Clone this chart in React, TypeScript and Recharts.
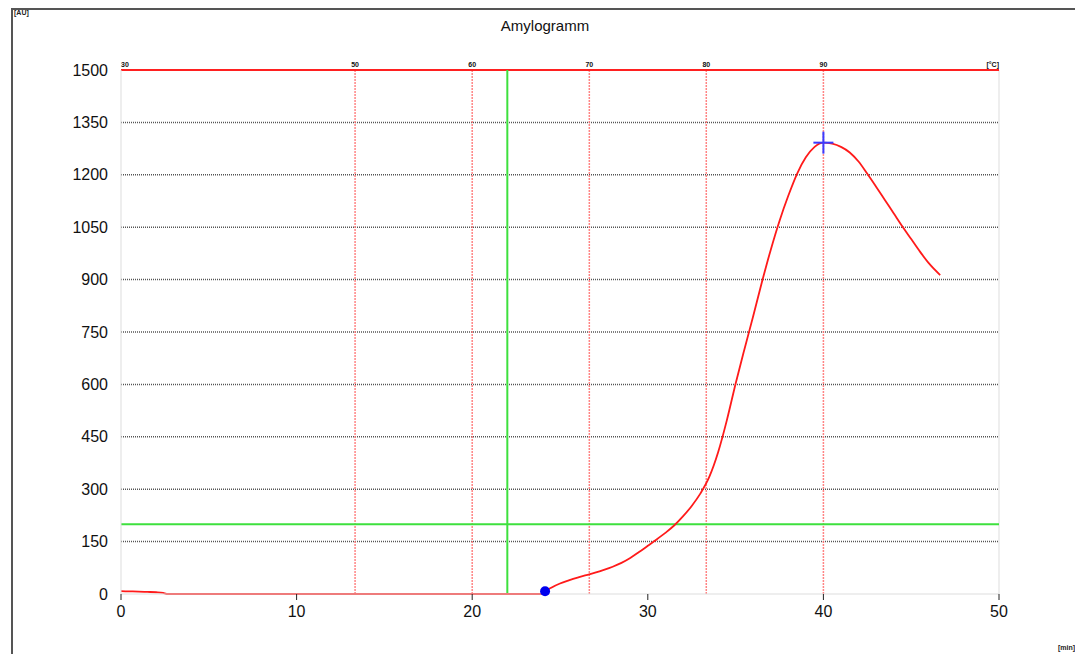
import React from "react";
import {
  LineChart,
  Line,
  XAxis,
  YAxis,
  ReferenceLine,
  ReferenceDot,
} from "recharts";

// time [min] and viscosity [AU]
const timeMin = [
  0, 0.5, 1, 1.5, 2, 2.4, 2.6, 10, 20, 24.1, 24.2, 24.5, 25, 25.5, 26, 26.5,
  27, 27.5, 28, 28.5, 29, 29.5, 30, 30.5, 31, 31.5, 32, 32.5, 33, 33.5, 34,
  34.5, 35, 35.5, 36, 36.5, 37, 37.5, 38, 38.5, 39, 39.5, 40, 40.5, 41, 41.5,
  42, 42.5, 43, 43.5, 44, 44.5, 45, 45.5, 46, 46.65,
];
const auValues = [
  8, 7.5, 7, 6, 5, 3, 0, 0, 0, 0, 8, 18, 30, 39, 47, 54, 61, 69, 78, 89, 103,
  120, 138, 156, 175, 196, 222, 252, 288, 335, 405, 497, 602, 700, 795, 893,
  985, 1068, 1140, 1203, 1250, 1280, 1292, 1289, 1280, 1264, 1238, 1203, 1166,
  1128, 1090, 1052, 1016, 980, 947, 913,
];

const xTicks = [0, 10, 20, 30, 40, 50];
const yTicks = [0, 150, 300, 450, 600, 750, 900, 1050, 1200, 1350, 1500];
const gridValues = [150, 300, 450, 600, 750, 900, 1050, 1200, 1350];

// temperature scale on top: minute position -> label
const tempMinutes = [0, 13.33, 20, 26.67, 33.33, 40, 50];
const tempLabels = ["30", "50", "60", "70", "80", "90", "[°C]"];
const tempLines = [13.33, 20, 26.67, 33.33, 40];

const greenTime = 22;
const greenLevel = 200;
const onset = { t: 24.15, au: 8 };
const peak = { t: 40, au: 1292 };

const data = timeMin.map((t, i) => ({ t, au: auValues[i] }));

const FONT = '"Liberation Sans", Arial, sans-serif';

function TempTick(props: any) {
  const { x, y, payload, index } = props;
  const label = tempLabels[tempMinutes.indexOf(payload.value)] ?? "";
  let anchor: "start" | "middle" | "end" = "middle";
  if (index === 0) anchor = "start";
  if (payload.value === 50) anchor = "end";
  return (
    <text
      x={x}
      y={y}
      textAnchor={anchor}
      fontSize={7}
      fontWeight="bold"
      fontFamily={FONT}
      fill="#111"
    >
      {label}
    </text>
  );
}

function PeakCross(props: any) {
  const { cx, cy } = props;
  if (cx == null || cy == null) return null;
  return (
    <g stroke="#3b3bff" strokeWidth={2}>
      <line x1={cx - 10} y1={cy} x2={cx + 10} y2={cy} />
      <line x1={cx} y1={cy - 11} x2={cx} y2={cy + 11} />
    </g>
  );
}

export default function App() {
  return (
    <div
      style={{
        position: "absolute",
        left: 0,
        top: 0,
        width: 1075,
        height: 654,
        background: "#fff",
        fontFamily: FONT,
      }}
    >
      <div
        style={{
          position: "absolute",
          left: 11,
          top: 8,
          right: 0,
          bottom: 0,
          borderLeft: "2px solid #555",
          borderTop: "2px solid #555",
        }}
      />
      <div
        style={{
          position: "absolute",
          left: 14,
          top: 9,
          fontSize: 7,
          fontWeight: "bold",
          color: "#222",
        }}
      >
        [AU]
      </div>
      <div
        style={{
          position: "absolute",
          left: 1058,
          top: 644,
          fontSize: 7,
          fontWeight: "bold",
          color: "#222",
        }}
      >
        [min]
      </div>
      <div
        style={{
          position: "absolute",
          left: 0,
          width: 1090,
          top: 17,
          textAlign: "center",
          fontSize: 15,
          color: "#111",
        }}
      >
        Amylogramm
      </div>
      <LineChart
        width={1075}
        height={654}
        data={data}
        margin={{ top: 50, right: 76, bottom: 0, left: 61 }}
        style={{ position: "absolute", left: 0, top: 0 }}
      >
        <XAxis
          xAxisId="min"
          dataKey="t"
          type="number"
          domain={[0, 50]}
          ticks={xTicks}
          height={60}
          axisLine={{ stroke: "#ddd" }}
          tickLine={{ stroke: "#222" }}
          tickSize={6}
          tickMargin={6}
          tick={{ fontSize: 16, fill: "#111", fontFamily: FONT }}
        />
        <XAxis
          xAxisId="temp"
          dataKey="t"
          orientation="top"
          type="number"
          domain={[0, 50]}
          ticks={tempMinutes}
          interval={0}
          height={20}
          axisLine={false}
          tickLine={false}
          tickSize={0}
          tickMargin={3}
          tick={<TempTick />}
        />
        <YAxis
          type="number"
          domain={[0, 1500]}
          ticks={yTicks}
          width={60}
          axisLine={{ stroke: "#ddd" }}
          tickLine={false}
          tickMargin={7}
          tick={{ fontSize: 16, fill: "#111", fontFamily: FONT }}
        />
        {gridValues.map((v) => (
          <ReferenceLine
            key={"g" + v}
            xAxisId="min"
            y={v}
            stroke="#555"
            strokeDasharray="1 1"
            strokeWidth={1.5}
          />
        ))}
        <ReferenceLine xAxisId="min" x={50} stroke="#ddd" />
        {tempLines.map((t) => (
          <ReferenceLine
            key={"t" + t}
            xAxisId="min"
            x={t}
            stroke="#ff7070"
            strokeOpacity={0.85}
            strokeDasharray="2 1"
            strokeWidth={1.5}
          />
        ))}
        <ReferenceLine xAxisId="min" y={1500} stroke="#ff2020" strokeWidth={2} />
        <ReferenceLine xAxisId="min" x={greenTime} stroke="#3ee03e" strokeWidth={2} />
        <ReferenceLine xAxisId="min" y={greenLevel} stroke="#3ee03e" strokeWidth={2} />
        <Line
          xAxisId="min"
          type="monotone"
          dataKey="au"
          stroke="#ff1a1a"
          strokeWidth={1.8}
          dot={false}
          isAnimationActive={false}
        />
        <ReferenceDot
          xAxisId="min"
          x={onset.t}
          y={onset.au}
          r={5}
          fill="#0000ee"
          stroke="none"
        />
        <ReferenceDot
          xAxisId="min"
          x={peak.t}
          y={peak.au}
          shape={<PeakCross />}
        />
      </LineChart>
    </div>
  );
}
